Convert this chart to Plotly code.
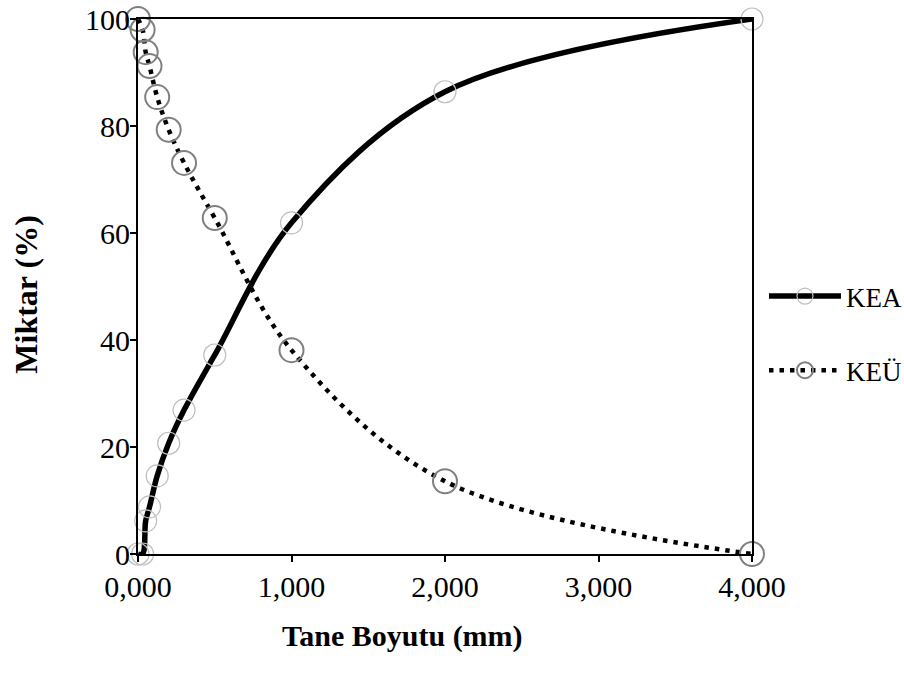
import plotly.graph_objects as go

# Grain size (mm)
size_mm = [0, 0.03, 0.05, 0.075, 0.125, 0.2, 0.3, 0.5, 1, 2, 4]
# KEA (%)
kea = [0, 0, 6.2, 8.8, 14.6, 20.7, 26.9, 37.2, 61.9, 86.4, 100]
# KEÜ (%)
keu = [100, 98, 93.8, 91.2, 85.4, 79.3, 73.1, 62.8, 38.1, 13.6, 0]

x_ticks = [0, 1, 2, 3, 4]
y_ticks = [0, 20, 40, 60, 80, 100]

FONT = "Liberation Serif, Times New Roman, serif"

fig = go.Figure()
fig.add_trace(go.Scatter(
    x=size_mm, y=kea, name="KEA", mode="lines+markers",
    line=dict(color="black", width=5.5, shape="spline", smoothing=1),
    marker=dict(symbol="circle-open", size=22, color="#bfbfbf",
                line=dict(color="#bfbfbf", width=1.2)),
    cliponaxis=False, legendgroup="a",
))
fig.add_trace(go.Scatter(
    x=size_mm, y=keu, name="KEÜ", mode="lines+markers",
    line=dict(color="black", width=4.5, dash="4.5px,6px", shape="spline", smoothing=1),
    marker=dict(symbol="circle-open", size=24, color="#808080",
                line=dict(color="#808080", width=2)),
    cliponaxis=False, legendgroup="b",
))

fig.update_layout(
    width=904, height=681,
    margin=dict(l=138, r=152, t=19, b=127, autoexpand=False),
    paper_bgcolor="white", plot_bgcolor="white",
    separators=",.",
    font=dict(family=FONT, size=22, color="black"),
    showlegend=True,
    legend=dict(x=1.0195, y=0.527, xanchor="left", yanchor="top",
                font=dict(family=FONT, size=27, color="black"),
                itemwidth=72, tracegroupgap=36, bgcolor="rgba(0,0,0,0)"),
    annotations=[
        dict(text="<b>Tane Boyutu (mm)</b>", x=0.43, y=-0.153,
             xref="paper", yref="paper", showarrow=False,
             xanchor="center", yanchor="middle",
             font=dict(family=FONT, size=30, color="black")),
        dict(text="<b>Miktar (%)</b>", x=-0.183, y=0.484, textangle=-90,
             xref="paper", yref="paper", showarrow=False,
             xanchor="center", yanchor="middle",
             font=dict(family=FONT, size=32, color="black")),
    ],
)
fig.update_xaxes(range=[0, 4], tickvals=x_ticks, tickformat=".3f",
                 showgrid=False, zeroline=False, automargin=False,
                 showline=True, linecolor="black", linewidth=2, mirror=True,
                 ticks="outside", ticklen=6, tickwidth=2, tickcolor="black",
                 ticklabelstandoff=-1, ticklabeloverflow="allow",
                 tickfont=dict(family=FONT, size=30, color="black"))
fig.update_yaxes(range=[0, 100], tickvals=y_ticks,
                 showgrid=False, zeroline=False, automargin=False,
                 showline=True, linecolor="black", linewidth=2, mirror=True,
                 ticks="outside", ticklen=6, tickwidth=2, tickcolor="black",
                 ticklabelstandoff=-6, ticklabeloverflow="allow",
                 tickfont=dict(family=FONT, size=30, color="black"))

fig.write_html("out.html", config={"displayModeBar": False},
               post_script="document.body.style.margin='0';document.body.style.overflow='hidden';")
